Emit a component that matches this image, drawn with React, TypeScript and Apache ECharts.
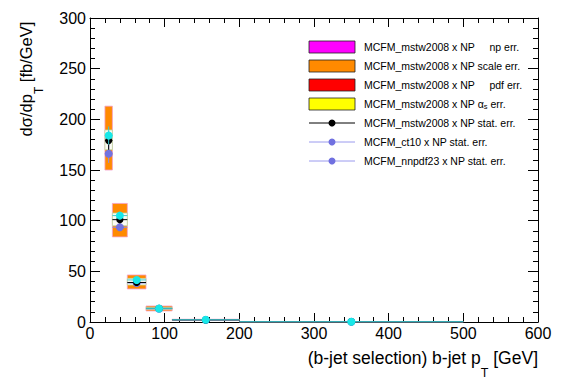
import { useEffect, useRef } from "react";
import * as echarts from "echarts";

// ---- data ----
const binLow = [20, 30, 50, 75, 110, 200];
const binHigh = [30, 50, 75, 110, 200, 500];
const binCenter = [25, 40, 62.5, 92.5, 155, 350];

// MCFM_mstw2008 x NP scale-uncertainty band
const scaleLow = [150, 84, 32.6, 10.9, 1.6, 0.2];
const scaleHigh = [213, 117, 46.4, 15.8, 2.7, 0.45];
// inner (pdf / alpha_s / np) band
const innerLow = [170, 95, 36.5, 12.4, 2.0, 0.28];
const innerHigh = [189.5, 107.5, 43, 14.4, 2.4, 0.36];

const mstwValue = [179, 101, 39, 13.4, 2.1, 0.3];
const mstwErr = [9, 3.5, 1.2, 0.4, 0.08, 0.02];
const ct10Value = [166, 93.5, 38.5, 13, 2.0, 0.28];
const ct10Err = [9, 3.5, 1.2, 0.4, 0.08, 0.02];
const nnpdfValue = [184, 105, 41.5, 13.4, 2.2, 0.32];
const nnpdfErr = [9, 3.5, 1.2, 0.4, 0.08, 0.02];

const xTicks = [0, 100, 200, 300, 400, 500, 600];
const yTicks = [0, 50, 100, 150, 200, 250, 300];

const legendLabels = [
  "MCFM_mstw2008 x NP\u00a0\u00a0\u00a0\u00a0\u00a0np err.",
  "MCFM_mstw2008 x NP scale err.",
  "MCFM_mstw2008 x NP\u00a0\u00a0\u00a0\u00a0\u00a0pdf err.",
  "MCFM_mstw2008 x NP {g|α}{s|s} err.",
  "MCFM_mstw2008 x NP stat. err.",
  "MCFM_ct10 x NP stat. err.",
  "MCFM_nnpdf23 x NP stat. err.",
];
const legendKinds = ["box", "box", "box", "box", "line", "line", "line"];
const legendColors = ["#ff00ff", "#ff8a00", "#ff0000", "#ffff00", "#000000", "#9a9aee", "#9a9aee"];
const legendMarkerColors = ["", "", "", "", "#000000", "#7070e0", "#7070e0"];

const FONT = "'Liberation Sans', Arial, Helvetica, sans-serif";

function bandSeries(name: string, lo: number[], hi: number[], fill: string, stroke: string) {
  return {
    type: "custom",
    name,
    xAxisIndex: 0,
    yAxisIndex: 0,
    data: binLow.map((l, i) => [l, binHigh[i], lo[i], hi[i]]),
    encode: { x: [0, 1], y: [2, 3] },
    renderItem: (_p: any, api: any) => {
      const a = api.coord([api.value(0), api.value(3)]);
      const b = api.coord([api.value(1), api.value(2)]);
      return {
        type: "rect",
        shape: { x: a[0], y: a[1], width: b[0] - a[0], height: b[1] - a[1] },
        style: { fill, stroke, lineWidth: 0.8 },
      };
    },
  };
}

function pointSeries(name: string, vals: number[], errs: number[], lineColor: string, markerColor: string, r: number) {
  return {
    type: "custom",
    name,
    xAxisIndex: 0,
    yAxisIndex: 0,
    data: binCenter.map((c, i) => [c, vals[i], binLow[i], binHigh[i], vals[i] - errs[i], vals[i] + errs[i]]),
    encode: { x: [0, 2, 3], y: [1, 4, 5] },
    renderItem: (_p: any, api: any) => {
      const c = api.coord([api.value(0), api.value(1)]);
      const l = api.coord([api.value(2), api.value(1)]);
      const h = api.coord([api.value(3), api.value(1)]);
      const lo = api.coord([api.value(0), api.value(4)]);
      const hi = api.coord([api.value(0), api.value(5)]);
      return {
        type: "group",
        children: [
          { type: "line", shape: { x1: l[0], y1: l[1], x2: h[0], y2: h[1] }, style: { stroke: lineColor, lineWidth: 1 } },
          { type: "line", shape: { x1: lo[0], y1: lo[1], x2: hi[0], y2: hi[1] }, style: { stroke: lineColor, lineWidth: 1 } },
          { type: "circle", shape: { cx: c[0], cy: c[1], r }, style: { fill: markerColor } },
        ],
      };
    },
  };
}

function buildLegend() {
  const els: any[] = [];
  const x0 = 309;
  const w = 46;
  legendLabels.forEach((label, i) => {
    const cy = 47 + 19 * i;
    if (legendKinds[i] === "box") {
      els.push({
        type: "rect",
        shape: { x: x0, y: cy - 6, width: w, height: 12 },
        style: { fill: legendColors[i], stroke: "#222", lineWidth: 0.8 },
      });
    } else {
      els.push({
        type: "line",
        shape: { x1: x0, y1: cy, x2: x0 + w, y2: cy },
        style: { stroke: legendColors[i], lineWidth: 1 },
      });
      els.push({
        type: "circle",
        shape: { cx: x0 + w / 2, cy, r: 3.5 },
        style: { fill: legendMarkerColors[i] },
      });
    }
    els.push({
      type: "text",
      x: 364,
      y: cy,
      style: {
        text: label,
        fill: "#000",
        fontSize: 10.5,
        fontFamily: FONT,
        align: "left",
        verticalAlign: "middle",
        rich: {
          g: { fontSize: 10.5, fontFamily: FONT, fill: "#000" },
          s: { fontSize: 7.5, fontFamily: FONT, fill: "#000", padding: [5, 0, 0, 0], verticalAlign: "top" },
        },
      },
    });
  });
  return els;
}

export default function App() {
  const ref = useRef<HTMLDivElement>(null);
  useEffect(() => {
    if (!ref.current) return;
    const chart = echarts.init(ref.current, null, { renderer: "svg" });
    const axisCommon = {
      type: "value",
      axisLine: { show: true, onZero: false, lineStyle: { color: "#000", width: 1 } },
      splitLine: { show: false },
      minorSplitLine: { show: false },
    };
    const labelStyle = { color: "#000", fontSize: 16, fontFamily: FONT };
    const xMain = { fontSize: 17.5, fontFamily: FONT, fill: "#000", lineHeight: 18, verticalAlign: "top" };
    const xSub = { fontSize: 12.5, fontFamily: FONT, fill: "#000", lineHeight: 12, padding: [17, 0, 0, 0], verticalAlign: "top" };
    const yMain = { fontSize: 16.5, fontFamily: FONT, fill: "#000", lineHeight: 17, verticalAlign: "top" };
    const ySub = { fontSize: 12, fontFamily: FONT, fill: "#000", lineHeight: 12, padding: [15, 0, 0, 0], verticalAlign: "top" };

    chart.setOption({
      animation: false,
      backgroundColor: "#fff",
      textStyle: { fontFamily: FONT },
      grid: { left: 90, right: 29, top: 18, bottom: 62, containLabel: false },
      xAxis: [
        {
          ...axisCommon,
          position: "bottom",
          min: xTicks[0],
          max: xTicks[xTicks.length - 1],
          interval: xTicks[1] - xTicks[0],
          axisTick: { show: true, inside: true, length: 9, lineStyle: { color: "#000" } },
          minorTick: { show: true, splitNumber: 5, length: 5, lineStyle: { color: "#000" } },
          axisLabel: { ...labelStyle, margin: 3 },
        },
        {
          ...axisCommon,
          position: "top",
          min: xTicks[0],
          max: xTicks[xTicks.length - 1],
          interval: xTicks[1] - xTicks[0],
          axisTick: { show: true, inside: true, length: 9, lineStyle: { color: "#000" } },
          minorTick: { show: true, splitNumber: 5, length: 5, lineStyle: { color: "#000" } },
          axisLabel: { show: false },
        },
      ],
      yAxis: [
        {
          ...axisCommon,
          position: "left",
          min: yTicks[0],
          max: yTicks[yTicks.length - 1],
          interval: yTicks[1] - yTicks[0],
          axisTick: { show: true, inside: true, length: 10, lineStyle: { color: "#000" } },
          minorTick: { show: true, splitNumber: 5, length: 5, lineStyle: { color: "#000" } },
          axisLabel: { ...labelStyle, margin: 4 },
        },
        {
          ...axisCommon,
          position: "right",
          min: yTicks[0],
          max: yTicks[yTicks.length - 1],
          interval: yTicks[1] - yTicks[0],
          axisTick: { show: true, inside: true, length: 10, lineStyle: { color: "#000" } },
          minorTick: { show: true, splitNumber: 5, length: 5, lineStyle: { color: "#000" } },
          axisLabel: { show: false },
        },
      ],
      series: [
        bandSeries("MCFM_mstw2008 x NP scale err.", scaleLow, scaleHigh, "#ff8a00", "#f4a0c8"),
        bandSeries("MCFM_mstw2008 x NP pdf err.", innerLow, innerHigh, "#fbfbf4", "#b8d8a0"),
        pointSeries("MCFM_ct10 x NP stat. err.", ct10Value, ct10Err, "#8a8ae8", "#7373e0", 4),
        pointSeries("MCFM_mstw2008 x NP stat. err.", mstwValue, mstwErr, "#000000", "#000000", 3.6),
        pointSeries("MCFM_nnpdf23 x NP stat. err.", nnpdfValue, nnpdfErr, "#3cc8d0", "#18e8e8", 4),
      ],
      graphic: [
        ...buildLegend(),
        {
          type: "text",
          x: 538,
          y: 349,
          style: {
            text: "{m|(b-jet selection) b-jet p}{sub|T}{m| [GeV]}",
            align: "right",
            verticalAlign: "top",
            fill: "#000",
            rich: { m: xMain, sub: xSub },
          },
        },
        {
          type: "text",
          x: 17.5,
          y: 79,
          rotation: Math.PI / 2,
          style: {
            text: "{m|dσ/dp}{sub|T}{m| [fb/GeV]}",
            align: "center",
            verticalAlign: "top",
            fill: "#000",
            rich: { m: yMain, sub: ySub },
          },
        },
      ],
    });
    return () => chart.dispose();
  }, []);
  return <div ref={ref} style={{ position: "fixed", left: 0, top: 0, width: 567, height: 384 }} />;
}
